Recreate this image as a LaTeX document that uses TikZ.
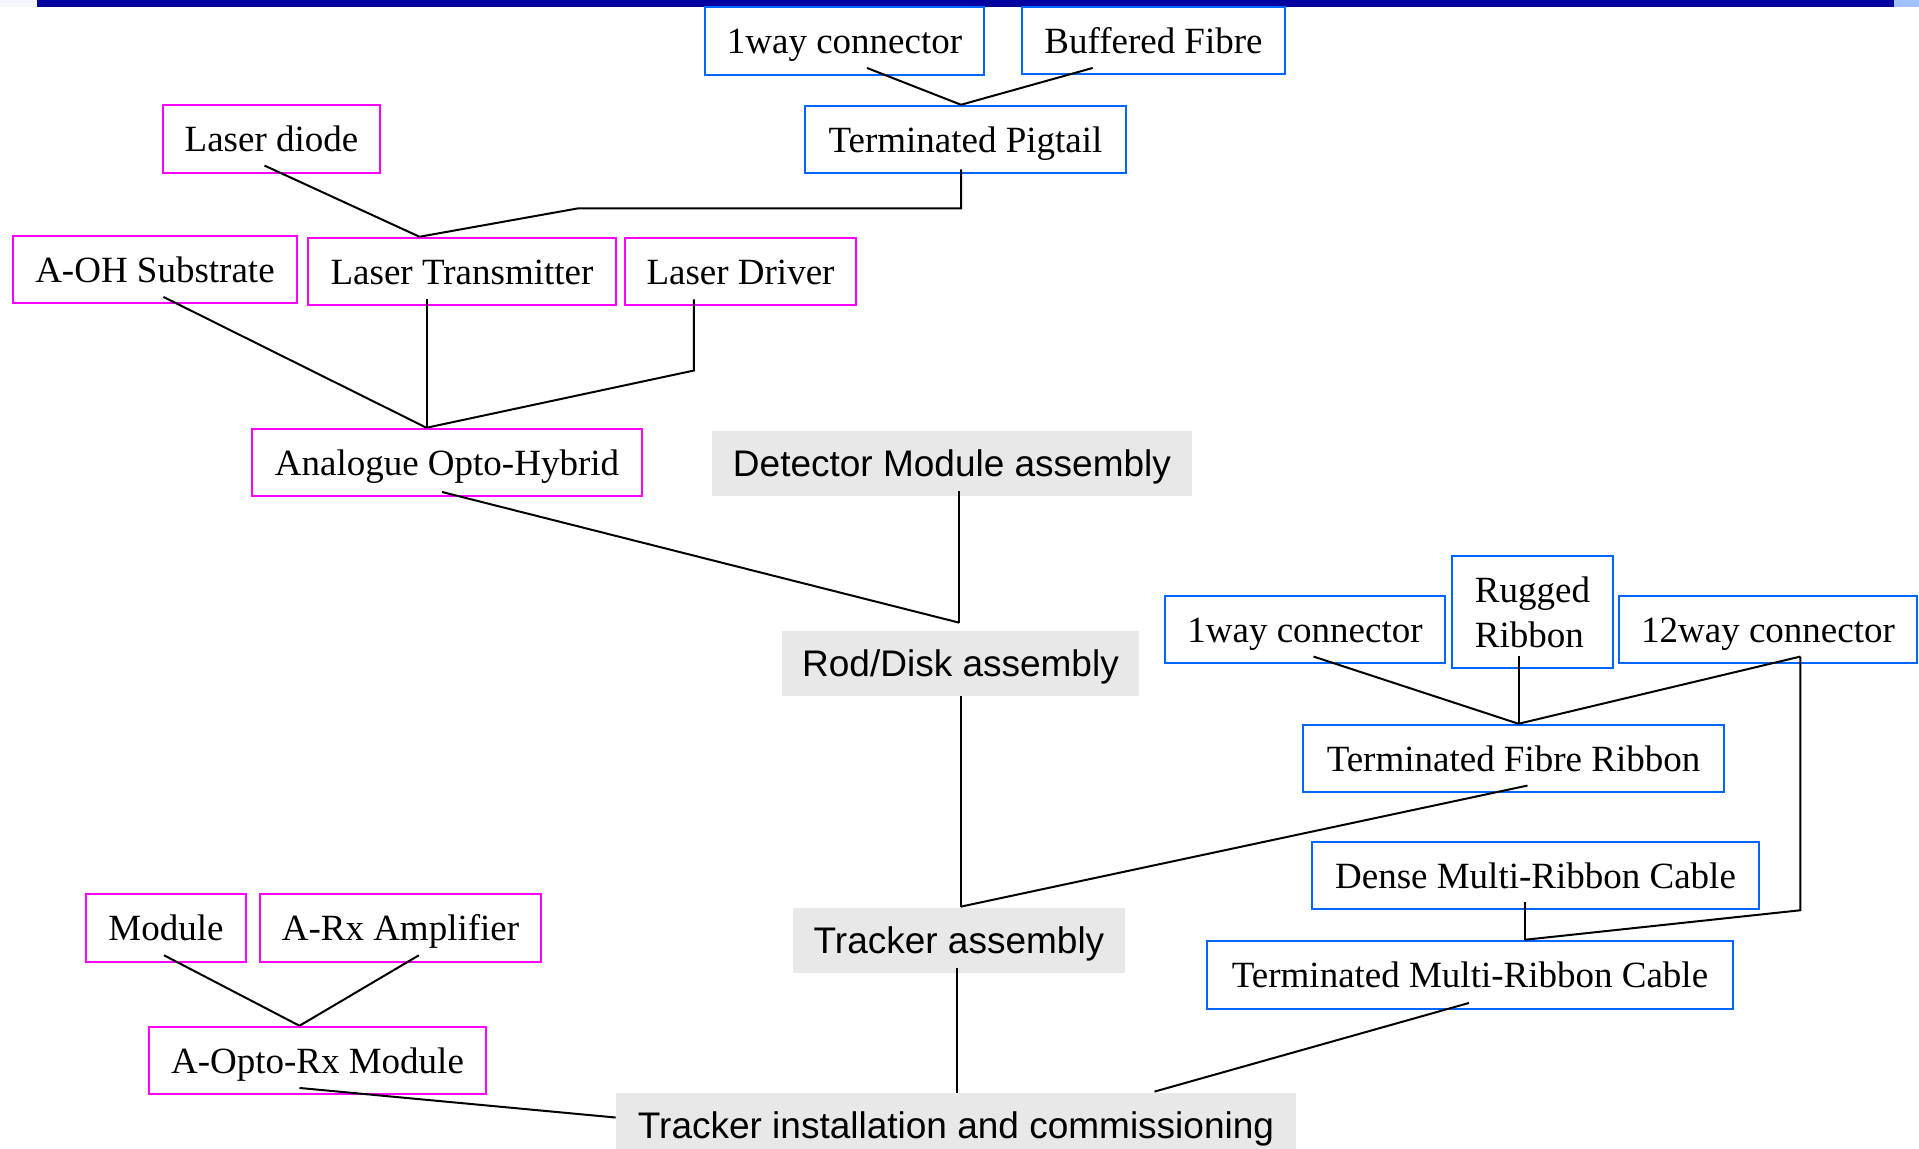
\documentclass[tikz,border=0pt]{standalone}
\usepackage{fontspec}
\setmainfont{Liberation Serif}
\setsansfont{Liberation Sans}
\usetikzlibrary{calc}
\definecolor{barblue}{RGB}{0,0,160}
\definecolor{barlight}{RGB}{160,192,255}
\definecolor{barpale}{RGB}{246,246,255}
\definecolor{bbox}{RGB}{0,102,255}
\definecolor{mbox}{RGB}{255,0,255}
\definecolor{gfill}{RGB}{232,232,232}
\begin{document}
\begin{tikzpicture}[x=0.5pt,y=-0.5pt,
  base/.style 2 args={rectangle,inner sep=0pt,minimum width={#1*0.5pt},minimum height={#2*0.5pt},text height=12.6pt,text depth=0pt,font=\fontsize{18.5pt}{22.5pt}\selectfont},
  bluebox/.style 2 args={base={#1}{#2},draw=bbox,line width=1.25pt},
  magbox/.style 2 args={base={#1}{#2},draw=mbox,line width=1.25pt},
  graybox/.style 2 args={base={#1}{#2},fill=gfill,text height=13pt,font=\sffamily\fontsize{18.5pt}{22.5pt}\selectfont},
  conn/.style={draw=black,line width=1pt,line join=miter}]
\useasboundingbox (0,0) rectangle (1919,1148);
\begin{scope}
\clip (0,0) rectangle (1919,1148);
% top bar
\fill[barpale] (0,0) rectangle (37,7);
\fill[barblue] (37,0) rectangle (1894,7);
\fill[barlight] (1894,0) rectangle (1919,7);
% nodes
\node[bluebox={279}{68}] (c1w) at (844.5,41) {1way connector};
\node[bluebox={263}{67}] (bf) at (1153.5,40.5) {Buffered Fibre};
\node[bluebox={321}{67}] (tp) at (965.5,139.5) {Terminated Pigtail};
\node[magbox={217}{68}] (ld) at (271.5,139) {Laser diode};
\node[magbox={284}{67}] (aohs) at (155,269.5) {A-OH Substrate};
\node[magbox={308}{67}] (lt) at (462,271.5) {Laser Transmitter};
\node[magbox={231}{67}] (ldr) at (740.5,271.5) {Laser Driver};
\node[magbox={390}{67}] (aoh) at (447,462.5) {Analogue Opto-Hybrid};
\node[graybox={480}{65}] (dma) at (952,463.5) {Detector Module assembly};
\node[graybox={357}{65}] (rda) at (960.5,663.5) {Rod/Disk assembly};
\node[bluebox={280}{67}] (c1wb) at (1305,629.5) {1way connector};
\node[bluebox={161}{112}, text height=, text depth=, align=left] (rr) at (1532.5,612) {Rugged\\Ribbon};
\node[bluebox={298}{67}] (c12) at (1768,629.5) {12way connector};
\node[bluebox={421}{67}] (tfr) at (1513.5,758.5) {Terminated Fibre Ribbon};
\node[bluebox={447}{67}] (dmrc) at (1535.5,875.5) {Dense Multi-Ribbon Cable};
\node[bluebox={526}{68}] (tmrc) at (1470,975) {Terminated Multi-Ribbon Cable};
\node[graybox={332}{65}] (ta) at (959,940.5) {Tracker assembly};
\node[magbox={160}{68}] (mod) at (166,928) {Module};
\node[magbox={281}{68}] (arx) at (400.5,928) {A-Rx Amplifier};
\node[magbox={337}{67}] (aorx) at (317.5,1060.5) {A-Opto-Rx Module};
\node[graybox={680}{65}] (tic) at (956,1125.5) {Tracker installation and commissioning};
% junction coordinates
\coordinate (J1) at ($(tp.north)+(-4.5,0)$);
\coordinate (Jlt) at ($(lt.north)+(-42.5,0)$);
\coordinate (J2) at ($(aoh.north)+(-20.5,0)$);
\coordinate (J3) at ($(rda.north)+(-1.5,-8)$);
\coordinate (J4) at ($(ta.north)+(2,-1)$);
\coordinate (J5) at ($(tfr.north)+(5,0)$);
\coordinate (J6) at ($(tmrc.north)+(55,0)$);
\coordinate (J7) at ($(aorx.north)+(-18,0)$);
\coordinate (K) at ($(c12.south)+(32.4,-7.7)$);
% connectors
\draw[conn] ($(c1w.south)+(22.5,-8.3)$) -- (J1);
\draw[conn] ($(bf.south)+(-60.8,-7.3)$) -- (J1);
\draw[conn] ($(tp.south)+(-4.5,-5)$) -- ($(tp.south)+(-4.5,34)$) -- ($(tp.south)+(-386.8,34)$) -- (Jlt);
\draw[conn] ($(ld.south)+(-7,-8.7)$) -- (Jlt);
\draw[conn] ($(aohs.south)+(8.5,-7.3)$) -- (J2);
\draw[conn] ($(lt.south -| J2)+(0,-7)$) -- (J2);
\draw[conn] ($(ldr.south)+(-46.7,-7)$) -- ($(ldr.south)+(-46.7,64.3)$) -- (J2);
\draw[conn] ($(aoh.south)+(-5,-5.3)$) -- (J3);
\draw[conn] ($(dma.south -| J3)+(0,-5)$) -- (J3);
\draw[conn] (rda.south -| J4) -- (J4);
\draw[conn] ($(tfr.south)+(14,-7.7)$) -- (J4);
\draw[conn] ($(c1wb.south)+(8.5,-7.7)$) -- (J5);
\draw[conn] ($(rr.south -| J5)+(0,-13)$) -- (J5);
\draw[conn] (K) -- (J5);
\draw[conn] (K) -- (K |- dmrc.south) -- (J6);
\draw[conn] ($(dmrc.south -| J6)+(0,-8)$) -- (J6);
\draw[conn] ($(tmrc.south)+(-1,-7.3)$) -- ($(tic.north)+(198.5,-1)$);
\draw[conn] ($(ta.south)+(-2,-5)$) -- ($(tic.north)+(1,0)$);
\draw[conn] ($(aorx.south)+(-18,-7.3)$) -- ($(tic.west)+(0,-8)$);
\draw[conn] ($(mod.south)+(-2,-8)$) -- (J7);
\draw[conn] ($(arx.south)+(18.4,-8)$) -- (J7);
\end{scope}
\end{tikzpicture}
\end{document}
